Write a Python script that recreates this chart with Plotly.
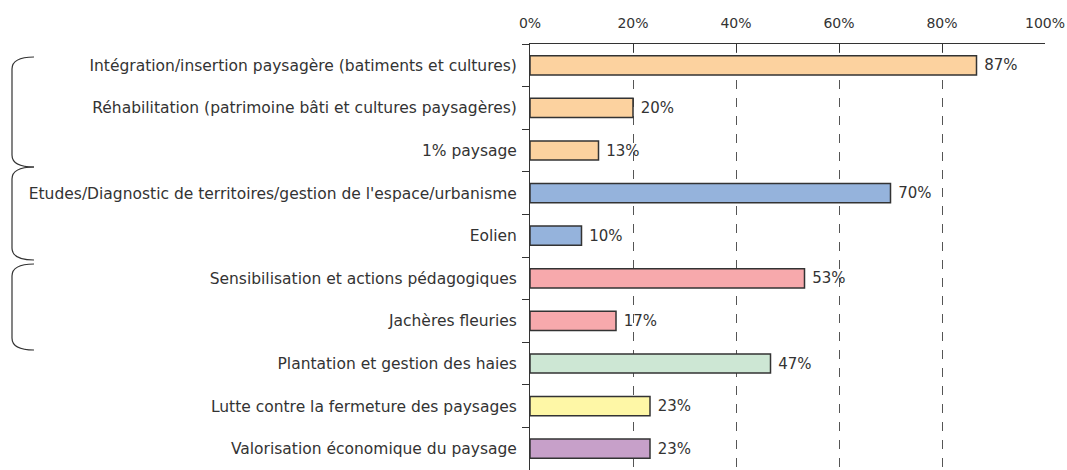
import plotly.graph_objects as go

categories = [
    "Intégration/insertion paysagère (batiments et cultures)",
    "Réhabilitation (patrimoine bâti et cultures paysagères)",
    "1% paysage",
    "Etudes/Diagnostic de territoires/gestion de l'espace/urbanisme",
    "Eolien",
    "Sensibilisation et actions pédagogiques",
    "Jachères fleuries",
    "Plantation et gestion des haies",
    "Lutte contre la fermeture des paysages",
    "Valorisation économique du paysage",
]
values = [86.7, 20.0, 13.3, 70.0, 10.0, 53.3, 16.7, 46.7, 23.3, 23.3]
labels = [f"\u00a0{round(v)}%" for v in values]
colors = ["#FCD29F", "#FCD29F", "#FCD29F", "#95B3DC", "#95B3DC",
          "#F7A9AC", "#F7A9AC", "#CDE7D4", "#FEF7A6", "#C7A0C9"]
xticks = [0, 20, 40, 60, 80, 100]
xticklabels = [f"{t}%" for t in xticks]

W, H = 1067, 470
ML, MT = 530, 44
MR, MB = W - 1045, 0
pw, ph = W - ML - MR, H - MT - MB

FONT = "DejaVu Sans, Arial"

fig = go.Figure(go.Bar(
    y=categories, x=values, orientation="h",
    marker=dict(color=colors, line=dict(color="#333333", width=1.5)),
    text=labels, textposition="outside", cliponaxis=False,
    textfont=dict(family=FONT, size=15, color="#333333"),
))

def px(x, y):
    return (x - ML) / pw, 1 - (y - MT) / ph

def brace(x0, x1, ya, yb, r):
    def p(x, y):
        a, b = px(x, y)
        return f"{a:.5f},{b:.5f}"
    return (f"M {p(x1, ya)} Q {p(x0, ya)} {p(x0, ya + r)} "
            f"L {p(x0, yb - r)} Q {p(x0, yb)} {p(x1, yb)}")

shapes = []
for ya, yb in [(57, 167), (167, 260), (264, 350)]:
    shapes.append(dict(type="path", xref="paper", yref="paper",
                       path=brace(12, 34, ya, yb, 12),
                       line=dict(color="#333333", width=1.2)))

fig.update_layout(
    width=W, height=H,
    margin=dict(l=ML, r=MR, t=MT, b=MB, autoexpand=False),
    plot_bgcolor="white", paper_bgcolor="white",
    showlegend=False, bargap=0.55,
    font=dict(family=FONT, size=15, color="#333333"),
    shapes=shapes,
    xaxis=dict(side="top", range=[0, 100], tickvals=xticks, ticktext=xticklabels,
               showline=True, linecolor="#333333", linewidth=1,
               ticks="inside", ticklen=8, tickcolor="#333333",
               showgrid=True, gridcolor="#555555", griddash="dash", gridwidth=1,
               zeroline=False, ticklabelstandoff=9,
               tickfont=dict(family=FONT, size=14)),
    yaxis=dict(autorange="reversed", showline=True, linecolor="#333333",
               linewidth=1, ticks="outside", ticklen=7, tickcolor="#333333",
               tickson="boundaries", ticklabelstandoff=9,
               tickfont=dict(family=FONT, size=15.5)),
)

fig.write_html(
    "out.html",
    config={"displayModeBar": False},
    post_script="document.body.style.margin='0';document.body.style.overflow='hidden';",
)
